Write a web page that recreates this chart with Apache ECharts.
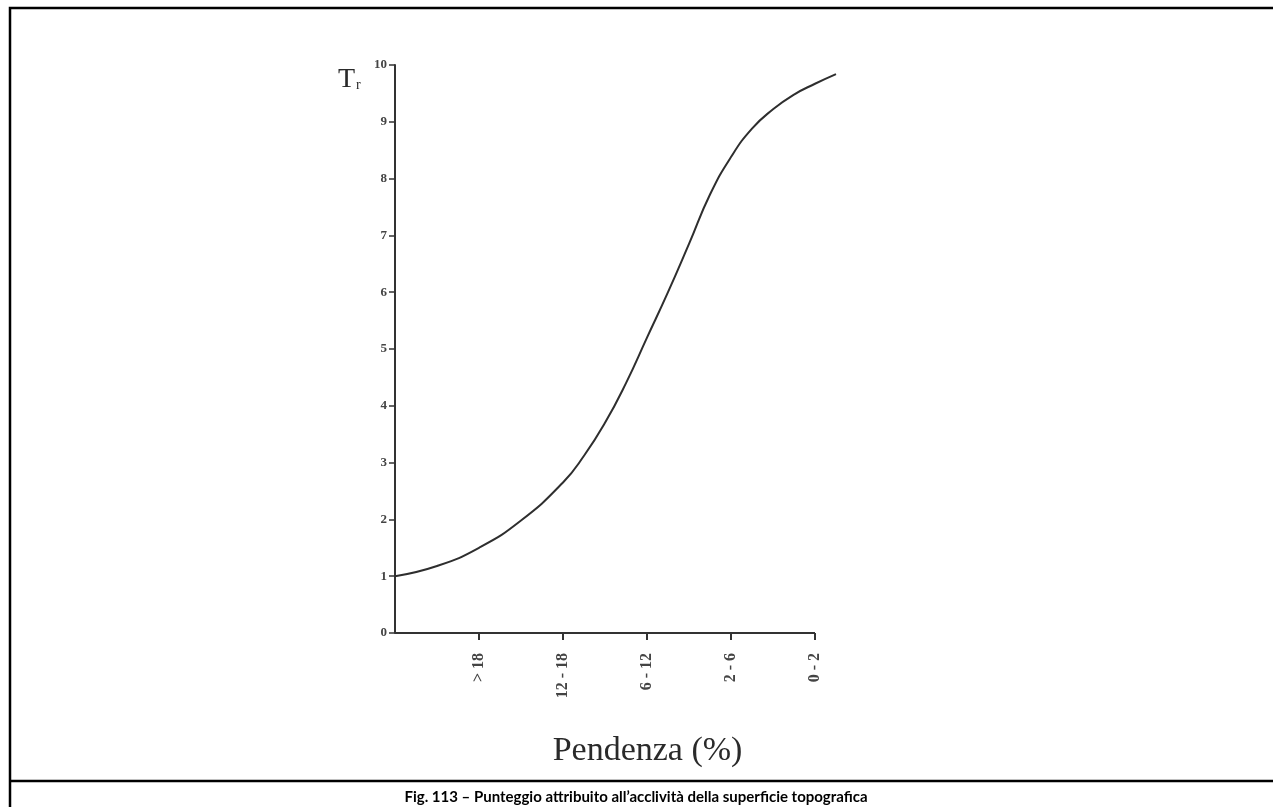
<!DOCTYPE html>
<html>
<head>
<meta charset="utf-8">
<script src="https://cdn.jsdelivr.net/npm/echarts@6/dist/echarts.min.js"></script>
<style>
html,body{margin:0;padding:0;background:#fff;}
#chart{width:1273px;height:807px;}
</style>
</head>
<body>
<div id="chart"></div>
<script>
// Slope classes (x-axis tick labels at positions 1..5)
const slopeClasses = ['> 18', '12 - 18', '6 - 12', '2 - 6', '0 - 2'];
const classTicks = [1, 2, 3, 4, 5];
// Curve read along the x scale (0 = origin, 1..5 = class ticks)
const curveX = [0, 0.5, 1.0, 1.5, 2.0, 2.25, 2.5, 2.75, 3.0, 3.25, 3.5, 3.75, 4.0, 4.25, 4.5, 4.75, 5.0, 5.25];
const curveY = [1.0, 1.18, 1.5, 1.98, 2.65, 3.12, 3.7, 4.4, 5.2, 6.0, 6.85, 7.72, 8.38, 8.88, 9.22, 9.48, 9.67, 9.84];
const yTicks = [0, 1, 2, 3, 4, 5, 6, 7, 8, 9, 10];
const axisBase = [[0, 0], [5, 0]];

const chart = echarts.init(document.getElementById('chart'));
const ink = '#333';
const serif = '"Liberation Serif", "DejaVu Serif", serif';

chart.setOption({
  backgroundColor: '#ffffff',
  animation: false,
  grid: { left: 395, right: 437, top: 65, bottom: 174, containLabel: false },
  xAxis: {
    type: 'value', min: 0, max: 5.25, interval: 1,
    name: 'Pendenza (%)', nameLocation: 'middle', nameGap: 101,
    nameTextStyle: { fontFamily: serif, fontSize: 34, color: '#2a2a2a', padding: [0, 0, 0, 64] },
    axisLine: { show: false },
    axisTick: { show: true, length: 7, customValues: classTicks, lineStyle: { color: ink, width: 2 } },
    splitLine: { show: false },
    axisLabel: {
      rotate: 90, margin: 20, fontFamily: serif, fontSize: 16, fontWeight: 'bold', color: '#444',
      customValues: classTicks,
      formatter: v => slopeClasses[classTicks.indexOf(v)] || ''
    }
  },
  yAxis: {
    type: 'value', min: yTicks[0], max: yTicks[yTicks.length - 1], interval: 1,
    axisLine: { show: true, lineStyle: { color: ink, width: 2 } },
    axisTick: { show: true, length: 6, lineStyle: { color: ink, width: 1.5 } },
    splitLine: { show: false },
    axisLabel: { margin: 8, fontFamily: serif, fontSize: 13, fontWeight: 'bold', color: '#444' }
  },
  series: [{
    type: 'line',
    data: curveX.map((x, i) => [x, curveY[i]]),
    smooth: true,
    showSymbol: false,
    clip: false,
    lineStyle: { color: '#2e2e2e', width: 2 }
  }, {
    type: 'line',
    data: axisBase,
    showSymbol: false,
    silent: true,
    lineStyle: { color: ink, width: 2 }
  }],
  graphic: [
    { type: 'rect', shape: { x: 10, y: 8, width: 1300, height: 900 },
      style: { fill: 'none', stroke: '#000', lineWidth: 2.5 }, silent: true },
    { type: 'line', shape: { x1: 10, y1: 781, x2: 1300, y2: 781 },
      style: { stroke: '#000', lineWidth: 2.5 }, silent: true },
    { type: 'text', left: 338, top: 66,
      style: { text: 'T{s|r}', fill: '#2a2a2a',
        font: '28px "Liberation Serif", serif',
        rich: { s: { fontSize: 14, fontFamily: serif, padding: [10, 0, 0, 1] } } } },
    { type: 'text', x: 636, y: 797,
      style: { text: 'Fig. 113 – Punteggio attribuito all’acclività della superficie topografica',
        fill: '#000', font: 'bold 15px Lato, "Open Sans", sans-serif',
        align: 'center', verticalAlign: 'middle' } }
  ]
});
</script>
</body>
</html>
